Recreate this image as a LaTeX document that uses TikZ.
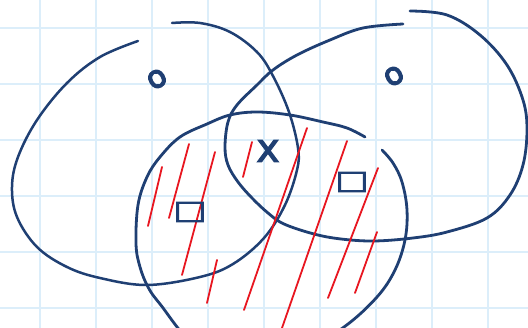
\documentclass[tikz,border=0pt]{standalone}
\usepackage{fontspec}
\newfontfamily\penfont{DejaVu Sans}[FakeBold=2.5]
\newfontfamily\thickpen{DejaVu Sans}[FakeBold=4]
\definecolor{ink}{RGB}{31,63,115}
\definecolor{hatch}{RGB}{232,22,32}
\definecolor{paper}{RGB}{220,238,250}
\tikzset{
  setline/.style={ink, line width=2.8pt, line cap=round, line join=round},
  hatchline/.style={hatch, line width=1.8pt, line cap=round},
  lbl/.style={ink, inner sep=0pt}
}
\begin{document}
\begin{tikzpicture}[x=1pt, y=-1pt]
\useasboundingbox (0,0) rectangle (528,328);
\clip (0,0) rectangle (528,328);
\fill[white] (0,0) rectangle (528,328);

\foreach \gx in {40,96,...,488} \draw[paper, line width=1.5pt] (\gx,0) -- (\gx,328);
\foreach \gy in {28,84,...,308} \draw[paper, line width=1.5pt] (0,\gy) -- (528,\gy);

\draw[setline, line width=2.5pt] plot[smooth, tension=0.6] coordinates {(138,41) (100,57) (67,83) (37,120) (18,157) (12,187) (17,217) (37,247) (67,267) (100,278) (147,285) (200,277) (233,264) (264,238) (285,205) (297,170) (298,148) (289,112) (273,76) (257,52) (230,32) (200,23) (172,23)};

\draw[setline] plot[smooth, tension=0.6] coordinates {(410,11) (447,15) (480,35) (507,65) (523,100) (527,130) (523,165) (510,195) (487,218) (447,232) (413,238) (374,241) (341,239) (314,234) (284,224) (268,213) (252,198) (238,182) (228,165) (225,147) (228,122) (237,105) (257,85) (273,70) (297,55) (330,40) (363,28) (403,24)};

\draw[setline] plot[smooth, tension=0.6] coordinates {(382,150) (393,163) (402,182) (407,210) (405,240) (395,270) (377,297) (344,327) (300,352) (240,356) (195,345) (160,304) (148,287) (140,267) (136,244) (138,205) (147,177) (160,157) (180,137) (207,124) (230,115) (257,112) (290,115) (323,122) (347,128) (365,137)};

\draw[hatchline] (162,167) -- (148,226);
\draw[hatchline] (189,144) -- (169,218);
\draw[hatchline] (215,152) -- (182,275);
\draw[hatchline] (252,142) -- (243,177);
\draw[hatchline] (217,260) -- (207,303);
\draw[hatchline] (307,128) -- (244,310);
\draw[hatchline] (347,141) -- (282,328);
\draw[hatchline] (378,168) -- (328,298);
\draw[hatchline] (377,232) -- (355,293);

\node[lbl, font=\thickpen\fontsize{31}{31}\selectfont, rotate=30] (leftonly) at (157,79) {o};
\node[lbl, font=\thickpen\fontsize{31}{31}\selectfont, rotate=30] (rightonly) at (394,76) {o};
\node[lbl, font=\penfont\fontsize{40}{40}\selectfont] (centre) at (268,151) {x};
\node[lbl, font=\penfont\fontsize{26}{26}\selectfont, xscale=1.35] (leftbox) at (190,212) {□};
\node[lbl, font=\penfont\fontsize{26}{26}\selectfont, xscale=1.35] (rightbox) at (352,182) {□};
\end{tikzpicture}
\end{document}
